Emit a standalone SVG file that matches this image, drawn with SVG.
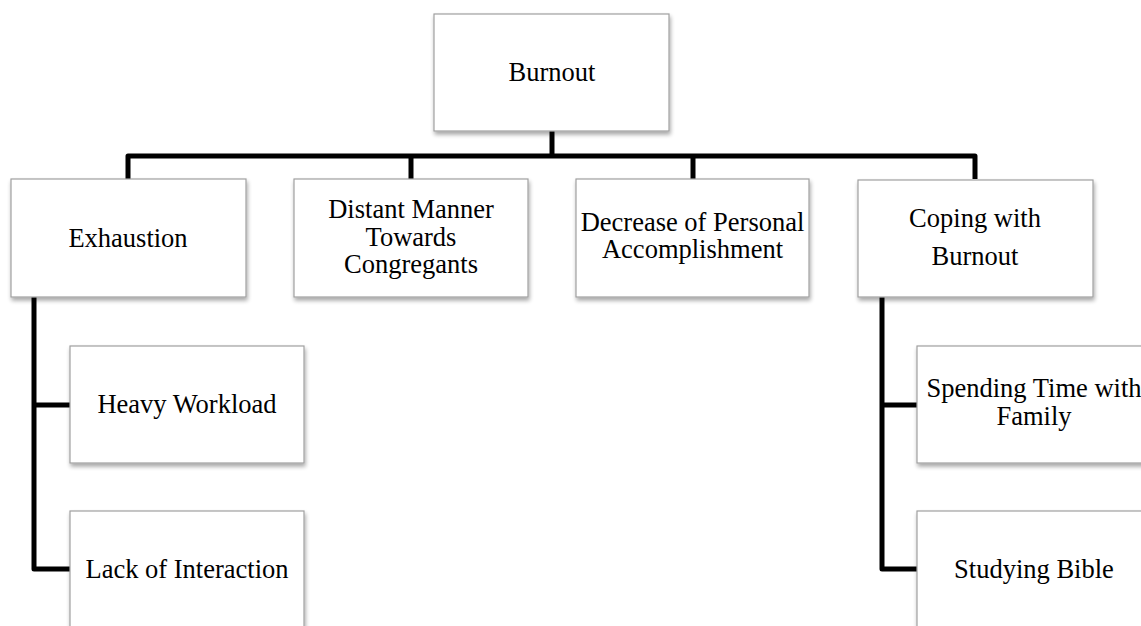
<svg xmlns="http://www.w3.org/2000/svg" width="1141" height="626" viewBox="0 0 1141 626">
<style>
.box{fill:#fff;stroke:#a0a0a0;stroke-width:1.2;filter:url(#sh)}
.lbl{font-family:"Liberation Serif","Times New Roman",serif;font-size:26.5px;fill:#000;text-anchor:middle}
.con{fill:none;stroke:#000;stroke-width:5;stroke-linejoin:round}
</style>
<defs>
<filter id="sh" x="-10%" y="-10%" width="120%" height="130%">
<feGaussianBlur in="SourceAlpha" stdDeviation="2"/>
<feOffset dx="1" dy="3" result="b"/>
<feComponentTransfer><feFuncA type="linear" slope="0.35"/></feComponentTransfer>
<feMerge><feMergeNode/><feMergeNode in="SourceGraphic"/></feMerge>
</filter>
</defs>
<rect width="1141" height="626" fill="#fff"/>
<g id="connectors">
<path class="con" d="M552,131 V156"/>
<path class="con" d="M128,179 V156 H975 V179"/>
<path class="con" d="M411,156 V179"/>
<path class="con" d="M693,156 V179"/>
<path class="con" d="M34,297 V569 H70"/>
<path class="con" d="M34,405 H70"/>
<path class="con" d="M882,297 V569 H917"/>
<path class="con" d="M882,405 H917"/>
</g>
<g id="burnout">
<rect class="box" x="434" y="14" width="235" height="117"/>
<text class="lbl" x="552" y="81">Burnout</text>
</g>
<g id="exhaustion">
<rect class="box" x="11" y="179" width="235" height="118"/>
<text class="lbl" x="128" y="247">Exhaustion</text>
</g>
<g id="distant">
<rect class="box" x="294" y="179" width="234" height="118"/>
<text class="lbl" x="411" y="218">Distant Manner</text>
<text class="lbl" x="411" y="245.5">Towards</text>
<text class="lbl" x="411" y="273">Congregants</text>
</g>
<g id="decrease">
<rect class="box" x="576" y="179" width="233" height="118"/>
<text class="lbl" x="692.5" y="230.5">Decrease of Personal</text>
<text class="lbl" x="692.5" y="258">Accomplishment</text>
</g>
<g id="coping">
<rect class="box" x="858" y="180" width="235" height="117"/>
<text class="lbl" x="975" y="227">Coping with</text>
<text class="lbl" x="975" y="265">Burnout</text>
</g>
<g id="heavy">
<rect class="box" x="70" y="346" width="234" height="117"/>
<text class="lbl" x="187" y="413">Heavy Workload</text>
</g>
<g id="lack">
<rect class="box" x="70" y="511" width="234" height="117"/>
<text class="lbl" x="187" y="578">Lack of Interaction</text>
</g>
<g id="spending">
<rect class="box" x="917" y="346" width="235" height="117"/>
<text class="lbl" x="1034" y="397">Spending Time with</text>
<text class="lbl" x="1034" y="425">Family</text>
</g>
<g id="studying">
<rect class="box" x="917" y="511" width="235" height="117"/>
<text class="lbl" x="1034" y="578">Studying Bible</text>
</g>
</svg>
